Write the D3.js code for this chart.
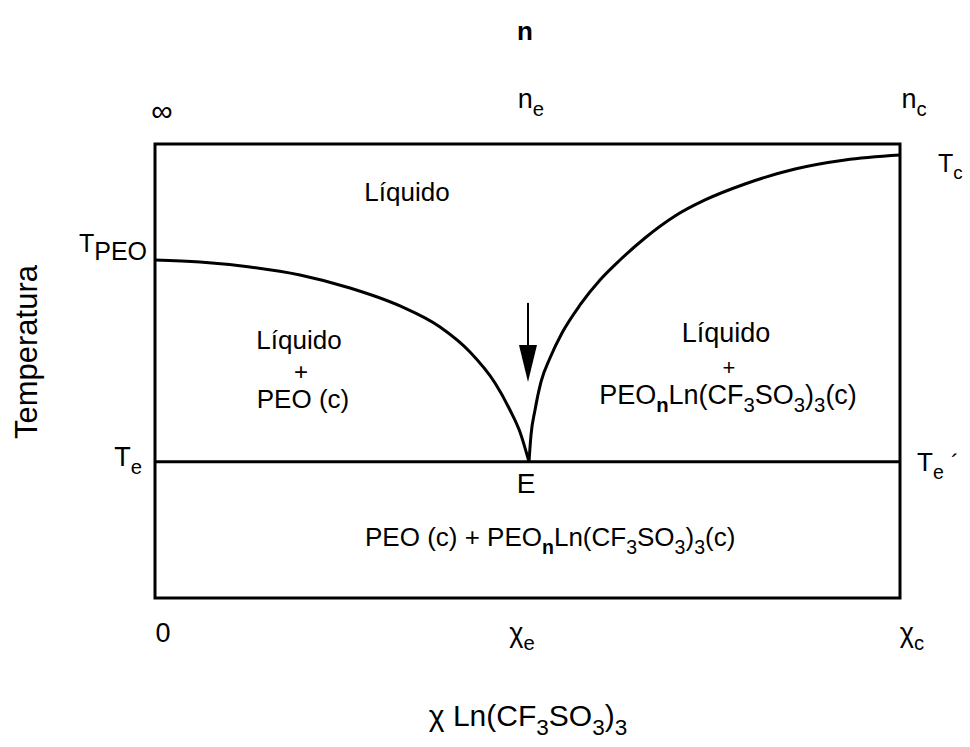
<!DOCTYPE html>
<html>
<head>
<meta charset="utf-8">
<script src="https://cdn.jsdelivr.net/npm/d3@7"></script>
<style>
  body { margin: 0; background: #fff; }
  text { font-family: "Liberation Sans", Arial, Helvetica, sans-serif; fill: #000; }
</style>
</head>
<body>
<div id="chart"></div>
<script>
const width = 970;
const height = 747;
const MARGIN_LEFT = 155;
const MARGIN_RIGHT = 70;
const MARGIN_TOP = 144;
const MARGIN_DOWN = 149;

// composition as fraction of x_c, temperature as fraction of the plotted range
const leftX = [0, 0.0604, 0.1275, 0.1946, 0.2617, 0.3289, 0.3826, 0.4228, 0.4564, 0.4765, 0.4899, 0.502];
const leftT = [0.7445, 0.7401, 0.7291, 0.7115, 0.6828, 0.6432, 0.5969, 0.5419, 0.4736, 0.4141, 0.3656, 0.300];
const rightX = [0.502, 0.5047, 0.5101, 0.5181, 0.5302, 0.5463, 0.5705, 0.5973, 0.6242, 0.6577, 0.698, 0.7383, 0.7919, 0.8591, 0.9262, 1.0];
const rightT = [0.300, 0.359, 0.4141, 0.4758, 0.5286, 0.5837, 0.6454, 0.7004, 0.7445, 0.793, 0.8414, 0.8767, 0.9119, 0.9449, 0.9648, 0.9758];
const eutecticX = 0.502;
const eutecticT = 0.300;
const arrowT = [0.650, 0.557, 0.476];

// tick values and labels (parts: [text, kind])
const xTicks = [0, 0.502, 1];
const xTickLabels = [[["0"]], [["χ"], ["e", "sub"]], [["χ"], ["c", "sub"]]];
const nTickLabels = [[["∞"]], [["n"], ["e", "sub"]], [["n"], ["c", "sub"]]];
const leftTLevels = [0.7445, 0.300];
const leftTLabels = [[["T", "up"], ["PEO"]], [["T"], ["e", "sub"]]];
const rightTLevels = [0.9758, 0.300];
const rightTLabels = [[["T"], ["c", "sub"]], [["T"], ["e", "sub"]]];

const compound = [["PEO"], ["n", "subb"], ["Ln(CF"], ["3", "sub"], ["SO"], ["3", "sub"], [")"], ["3", "sub"], ["(c)"]];

var xScale = d3.scaleLinear().domain([0, 1]).range([MARGIN_LEFT, width - MARGIN_RIGHT]);
var yScale = d3.scaleLinear().domain([0, 1]).range([height - MARGIN_DOWN, MARGIN_TOP]);

var svg = d3.select('#chart')
    .append('svg')
    .attr('width', width)
    .attr('height', height);

// text with sub/superscripts built from tspans
function rich(container, parts, size) {
    var t = container.append('text').attr('font-size', size);
    var cur = 0;
    parts.forEach(function(p) {
        var kind = p[1];
        var shift = (kind === 'sub' || kind === 'subb') ? size * 0.3 : kind === 'up' ? -size * 0.32 : 0;
        var span = t.append('tspan').attr('dy', shift - cur).text(p[0]);
        if (kind === 'sub' || kind === 'subb') span.attr('font-size', size * 0.75);
        if (kind === 'subb') span.attr('font-weight', 'bold');
        cur = shift;
    });
    return t;
}

// frame
svg.append('rect')
    .attr('x', xScale(0))
    .attr('y', yScale(1))
    .attr('width', xScale(1) - xScale(0))
    .attr('height', yScale(0) - yScale(1))
    .attr('fill', 'none')
    .attr('stroke', '#000')
    .attr('stroke-width', 3);

// eutectic line
svg.append('line')
    .attr('x1', xScale(0)).attr('x2', xScale(1))
    .attr('y1', yScale(eutecticT)).attr('y2', yScale(eutecticT))
    .attr('stroke', '#000')
    .attr('stroke-width', 3);

// liquidus curves
var line = d3.line()
    .x(d => xScale(d[0]))
    .y(d => yScale(d[1]))
    .curve(d3.curveMonotoneX);

[d3.zip(leftX, leftT), d3.zip(rightX, rightT)].forEach(function(pts) {
    svg.append('path')
        .attr('d', line(pts))
        .attr('fill', 'none')
        .attr('stroke', '#000')
        .attr('stroke-width', 3);
});

// arrow pointing at the eutectic
var ax = xScale(eutecticX) - 1;
svg.append('line')
    .attr('x1', ax).attr('x2', ax)
    .attr('y1', yScale(arrowT[0])).attr('y2', yScale(arrowT[1]))
    .attr('stroke', '#000')
    .attr('stroke-width', 2);
svg.append('path')
    .attr('d', `M${ax - 9},${yScale(arrowT[1])} L${ax + 9},${yScale(arrowT[1])} L${ax},${yScale(arrowT[2])} Z`)
    .attr('fill', '#000');

// bottom tick labels
var xOffsets = [8, -7, 12];
xTicks.forEach(function(v, i) {
    rich(svg, xTickLabels[i], 27)
        .attr('x', xScale(v) + xOffsets[i])
        .attr('y', 642)
        .attr('text-anchor', 'middle');
});

// top tick labels (n)
var nOffsets = [7, 2, 14];
xTicks.forEach(function(v, i) {
    rich(svg, nTickLabels[i], i === 0 ? 30 : 27)
        .attr('x', xScale(v) + nOffsets[i])
        .attr('y', i === 0 ? 121 : 108)
        .attr('text-anchor', 'middle');
});

// temperature labels
leftTLevels.forEach(function(v, i) {
    rich(svg, leftTLabels[i], i === 0 ? 25 : 27)
        .attr('x', i === 0 ? 147 : 142)
        .attr('y', yScale(v) + (i === 0 ? 0 : 4))
        .attr('text-anchor', 'end');
});
rightTLevels.forEach(function(v, i) {
    rich(svg, rightTLabels[i], i === 0 ? 25 : 26)
        .attr('x', i === 0 ? 938 : 917)
        .attr('y', yScale(v) + (i === 0 ? 17 : 9));
});
svg.append('text')
    .attr('x', 951)
    .attr('y', yScale(eutecticT) + 9)
    .attr('font-size', 24)
    .text('´');

// E label
svg.append('text')
    .attr('x', xScale(eutecticX) - 3)
    .attr('y', 493)
    .attr('font-size', 28)
    .attr('text-anchor', 'middle')
    .text('E');

// region labels
svg.append('text')
    .attr('x', 407).attr('y', 201)
    .attr('font-size', 26)
    .attr('text-anchor', 'middle')
    .text('Líquido');

var leftRegion = svg.append('g').attr('text-anchor', 'middle');
leftRegion.append('text').attr('x', 299).attr('y', 349).attr('font-size', 26).text('Líquido');
leftRegion.append('text').attr('x', 301).attr('y', 380).attr('font-size', 24).text('+');
leftRegion.append('text').attr('x', 303).attr('y', 408).attr('font-size', 26).text('PEO (c)');

var rightRegion = svg.append('g').attr('text-anchor', 'middle');
rightRegion.append('text').attr('x', 726).attr('y', 342).attr('font-size', 27).text('Líquido');
rightRegion.append('text').attr('x', 729).attr('y', 375).attr('font-size', 22).text('+');
rich(rightRegion, compound, 27).attr('x', 728).attr('y', 404);

rich(svg, [["PEO (c) + "]].concat(compound), 26)
    .attr('x', 365)
    .attr('y', 546);

// axis titles
svg.append('text')
    .attr('x', 525).attr('y', 40)
    .attr('font-size', 26)
    .attr('font-weight', 'bold')
    .attr('text-anchor', 'middle')
    .text('n');

rich(svg, [["χ Ln(CF"], ["3", "sub"], ["SO"], ["3", "sub"], [")"], ["3", "sub"]], 30)
    .attr('x', 528)
    .attr('y', 726)
    .attr('text-anchor', 'middle');

svg.append('text')
    .attr('transform', 'translate(37, 352) rotate(-90)')
    .attr('font-size', 31)
    .attr('text-anchor', 'middle')
    .text('Temperatura');
</script>
</body>
</html>
